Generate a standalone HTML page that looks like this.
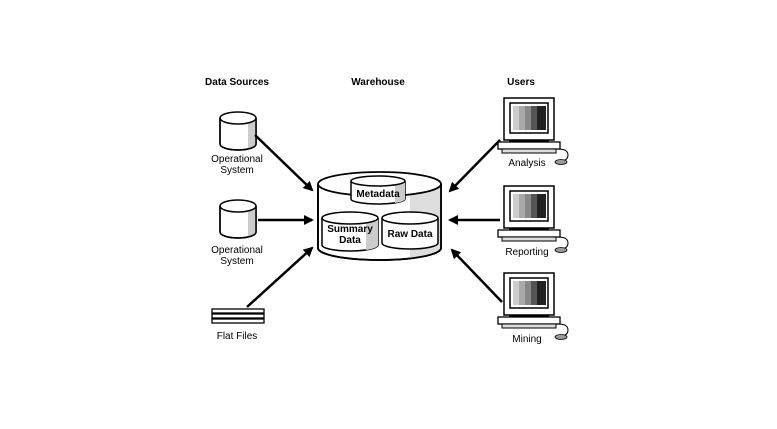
<!DOCTYPE html>
<html><head><style>
html,body{margin:0;padding:0;background:#fff;}
svg{display:block;}
text{font-family:"Liberation Sans",sans-serif;fill:#000;}
</style></head><body>
<svg width="777" height="429" viewBox="0 0 777 429" xmlns="http://www.w3.org/2000/svg">
<defs>
<marker id="ah" markerWidth="10" markerHeight="10" refX="8" refY="5" orient="auto" markerUnits="userSpaceOnUse">
<path d="M0,0 L10,5 L0,10 z" fill="#000"/>
</marker>
<g id="comp">
<rect x="0" y="0" width="50" height="42" fill="#fff" stroke="#000" stroke-width="1.5"/>
<rect x="6" y="5" width="38" height="30" fill="#fff" stroke="#000" stroke-width="1.5"/>
<rect x="9" y="8" width="6" height="24" fill="#ccc"/>
<rect x="15" y="8" width="6" height="24" fill="#aaa"/>
<rect x="21" y="8" width="6" height="24" fill="#888"/>
<rect x="27" y="8" width="6" height="24" fill="#555"/>
<rect x="33" y="8" width="9" height="24" fill="#222"/>
<rect x="5" y="42" width="40" height="2" fill="#000"/>
<rect x="-6" y="44" width="62" height="7" fill="#fff" stroke="#000" stroke-width="1.3"/>
<rect x="-2" y="51" width="54" height="4" fill="#ddd" stroke="#000" stroke-width="1"/>
<path d="M54,51 q10,0 10,6 q0,5 -6,6" fill="none" stroke="#000" stroke-width="1"/>
<ellipse cx="57" cy="64" rx="6" ry="2.5" fill="#999" stroke="#000" stroke-width="0.8"/>
</g>
<g id="cyl">
<path d="M0,6 L0,32 A18,6 0 0 0 36,32 L36,6" fill="#fff" stroke="#000" stroke-width="1.5"/>
<path d="M28,10 L36,6 L36,32 A18,6 0 0 1 28,37 z" fill="#ccc"/>
<path d="M0,6 L0,32 A18,6 0 0 0 36,32 L36,6" fill="none" stroke="#000" stroke-width="1.5"/>
<ellipse cx="18" cy="6" rx="18" ry="6" fill="#fff" stroke="#000" stroke-width="1.5"/>
</g>
</defs>

<text x="237" y="85" font-size="10" font-weight="bold" text-anchor="middle">Data Sources</text>
<text x="378" y="85" font-size="10" font-weight="bold" text-anchor="middle">Warehouse</text>
<text x="521" y="85" font-size="10" font-weight="bold" text-anchor="middle">Users</text>

<use href="#cyl" x="220" y="112"/>
<text x="237" y="162" font-size="10" text-anchor="middle">Operational</text>
<text x="237" y="173" font-size="10" text-anchor="middle">System</text>
<use href="#cyl" x="220" y="200"/>
<text x="237" y="253" font-size="10" text-anchor="middle">Operational</text>
<text x="237" y="264" font-size="10" text-anchor="middle">System</text>

<g stroke="#000" stroke-width="1.3" fill="#fff">
<rect x="212" y="309" width="52" height="4"/>
<rect x="212" y="314" width="52" height="4"/>
<rect x="212" y="319" width="52" height="4"/>
</g>
<text x="237" y="339" font-size="10" text-anchor="middle">Flat Files</text>

<!-- Warehouse -->
<path d="M318,184 L318,248 A61.5,12 0 0 0 441,248 L441,184" fill="#fff" stroke="#000" stroke-width="1.8"/>
<path d="M410,193 L441,184 L441,248 A61.5,12 0 0 1 410,259 z" fill="#ddd"/>
<path d="M318,184 L318,248 A61.5,12 0 0 0 441,248 L441,184" fill="none" stroke="#000" stroke-width="1.8"/>
<ellipse cx="379.5" cy="184" rx="61.5" ry="12" fill="#fff" stroke="#000" stroke-width="1.8"/>
<!-- Metadata -->
<path d="M351,181 L351,199 A27,5 0 0 0 405,199 L405,181" fill="#fff" stroke="#000" stroke-width="1.5"/>
<path d="M395,184 L405,181 L405,199 A27,5 0 0 1 395,203 z" fill="#ccc"/>
<ellipse cx="378" cy="181" rx="27" ry="5" fill="#fff" stroke="#000" stroke-width="1.5"/>
<text x="378" y="197" font-size="10" font-weight="bold" text-anchor="middle">Metadata</text>
<!-- Summary -->
<path d="M322,218 L322,245 A28,6 0 0 0 378,245 L378,218" fill="#fff" stroke="#000" stroke-width="1.5"/>
<path d="M366,222 L378,218 L378,245 A28,6 0 0 1 366,250 z" fill="#ccc"/>
<ellipse cx="350" cy="218" rx="28" ry="6" fill="#fff" stroke="#000" stroke-width="1.5"/>
<text x="350" y="232" font-size="10" font-weight="bold" text-anchor="middle">Summary</text>
<text x="350" y="243" font-size="10" font-weight="bold" text-anchor="middle">Data</text>
<!-- Raw -->
<path d="M382,218 L382,243 A28,6 0 0 0 438,243 L438,218" fill="#fff" stroke="#000" stroke-width="1.5"/>
<ellipse cx="410" cy="218" rx="28" ry="6" fill="#fff" stroke="#000" stroke-width="1.5"/>
<text x="410" y="237" font-size="10" font-weight="bold" text-anchor="middle">Raw Data</text>

<!-- arrows -->
<g stroke="#000" stroke-width="2.5" marker-end="url(#ah)">
<line x1="255" y1="135" x2="312" y2="190"/>
<line x1="258" y1="220" x2="312" y2="220"/>
<line x1="247" y1="307" x2="312" y2="248"/>
<line x1="500" y1="140" x2="450" y2="191"/>
<line x1="500" y1="220" x2="450" y2="220"/>
<line x1="502" y1="302" x2="452" y2="250"/>
</g>

<use href="#comp" x="504" y="98"/>
<text x="527" y="166" font-size="10" text-anchor="middle">Analysis</text>
<use href="#comp" x="504" y="186"/>
<text x="527" y="255" font-size="10" text-anchor="middle">Reporting</text>
<use href="#comp" x="504" y="273"/>
<text x="527" y="342" font-size="10" text-anchor="middle">Mining</text>
</svg>
</body></html>
